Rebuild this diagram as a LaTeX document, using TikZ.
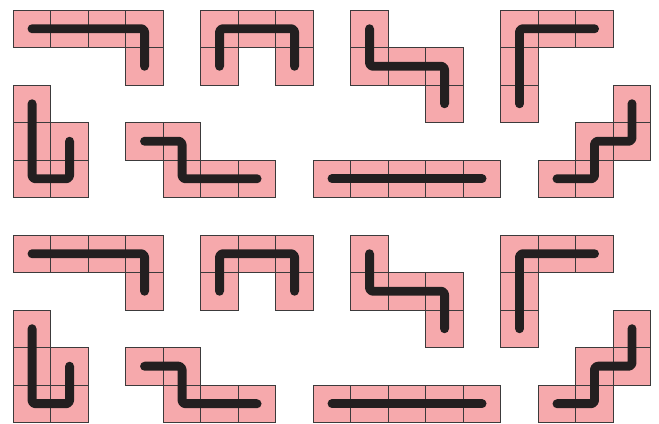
\documentclass[tikz,border=0pt]{standalone}
\usepackage{tikz}

\definecolor{tilepink}{HTML}{F6A9AC}
\definecolor{gridgray}{HTML}{3C3A3B}
\definecolor{pathblack}{HTML}{231F20}

\tikzset{
  cell/.style={fill=tilepink, draw=gridgray, line width=0.7pt},
  snake/.style={draw=pathblack, line width=6.8pt, line cap=round, line join=round, rounded corners=2.5pt}
}

\begin{document}
\begin{tikzpicture}
    \useasboundingbox (-0.355,0.267) rectangle (17.22,-11.04);

    % the same set of pieces twice, second one six rows lower
    \foreach \dy in {0,-6} {
    \begin{scope}[yshift=\dy cm]
    % cells: column/row, row counted downwards
    \foreach \c/\r in {0/0,1/0,2/0,3/0,3/1,
                       5/0,6/0,7/0,5/1,7/1,
                       9/0,9/1,10/1,11/1,11/2,
                       13/0,14/0,15/0,13/1,13/2,
                       0/2,0/3,0/4,1/3,1/4,
                       3/3,4/3,4/4,5/4,6/4,
                       8/4,9/4,10/4,11/4,12/4,
                       16/2,16/3,15/3,15/4,14/4}
      \draw[cell] (\c,-\r) rectangle ++(1,-1);

    % paths through the cell centres
    \draw[snake] (0.5,-0.5) -- (3.5,-0.5) -- (3.5,-1.5);
    \draw[snake] (5.5,-1.5) -- (5.5,-0.5) -- (7.5,-0.5) -- (7.5,-1.5);
    \draw[snake] (9.5,-0.5) -- (9.5,-1.5) -- (11.5,-1.5) -- (11.5,-2.5);
    \draw[snake] (15.5,-0.5) -- (13.5,-0.5) -- (13.5,-2.5);
    \draw[snake] (0.5,-2.5) -- (0.5,-4.5) -- (1.5,-4.5) -- (1.5,-3.5);
    \draw[snake] (3.5,-3.5) -- (4.5,-3.5) -- (4.5,-4.5) -- (6.5,-4.5);
    \draw[snake] (8.5,-4.5) -- (12.5,-4.5);
    \draw[snake] (16.5,-2.5) -- (16.5,-3.5) -- (15.5,-3.5) -- (15.5,-4.5) -- (14.5,-4.5);
    \end{scope}
    }
\end{tikzpicture}
\end{document}
